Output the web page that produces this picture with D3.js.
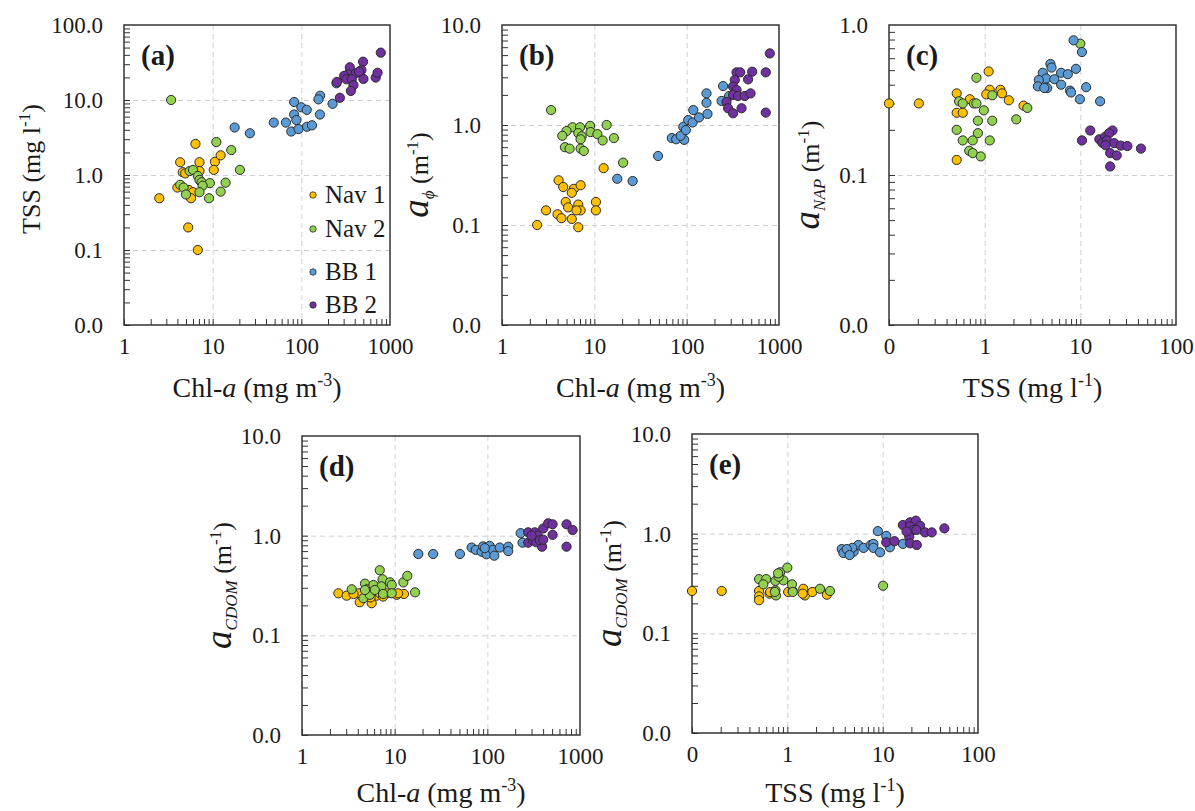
<!DOCTYPE html>
<html>
<head>
<meta charset="utf-8">
<script src="https://cdn.jsdelivr.net/npm/d3@7"></script>
<style>
  body { margin: 0; background: #fff; }
  text { font-family: "Liberation Serif", "Times New Roman", serif; fill: #1a1a1a; }
</style>
</head>
<body>
<svg id="chart" width="1195" height="811"></svg>
<script>
// groups
const groups = ["Nav 1", "Nav 2", "BB 1", "BB 2"];

// (a) Chl-a vs TSS
const aNav1 = [[6.4,2.6],[4.3,1.48],[7.1,1.48],[10.6,1.5],[12.3,1.83],[10.3,1.17],[4.6,1.09],[4.9,1.05],[7.1,1.13],[4.0,0.68],[5.4,0.63],[6.0,0.59],[5.7,0.49],[2.5,0.49],[5.3,0.2],[6.8,0.1]];
const aNav2 = [[3.4,10],[11,2.75],[16.2,2.15],[20.3,1.17],[5.5,1.13],[6.0,1.17],[6.8,0.97],[7.1,0.86],[7.5,0.8],[9.3,0.78],[14,0.79],[4.3,0.74],[4.7,0.68],[7.7,0.72],[5.0,0.55],[7.1,0.59],[9.1,0.49],[12.3,0.6]];
const aBB1 = [[17.7,4.3],[26.3,3.6],[48.9,5.0],[67,5.0],[77,3.8],[93,4.1],[83,6.4],[88,5.4],[83,9.4],[100,8.0],[115,7.4],[116,4.4],[132,4.6],[162,6.4],[163,11.4],[156,10.2],[225,8.9],[249,16.7]];
const aBB2 = [[272,10.7],[252,17.4],[352,27.3],[337,22],[304,21],[411,22.7],[497,32.4],[476,25.1],[322,18.9],[370,18.9],[387,15.8],[362,13.2],[502,19.1],[690,19.9],[724,23.1],[787,42.8],[448,23.8]];

// (b) Chl-a vs a_phi
const bNav1 = [[12.6,0.37],[4.1,0.28],[4.6,0.24],[6.0,0.23],[7.1,0.25],[5.7,0.21],[4.9,0.17],[5.2,0.15],[6.7,0.16],[7.1,0.14],[6.4,0.14],[10.4,0.17],[10.4,0.14],[3.0,0.14],[4.0,0.128],[4.4,0.117],[5.7,0.115],[2.4,0.1],[6.7,0.095]];
const bNav2 = [[3.4,1.41],[5.8,0.95],[7.0,0.95],[9.0,0.98],[13.6,1.0],[5.0,0.87],[4.5,0.78],[6.7,0.83],[7.3,0.77],[7.1,0.72],[9.1,0.85],[10.8,0.81],[12.3,0.7],[16.3,0.74],[4.8,0.6],[5.4,0.58],[7.1,0.58],[7.7,0.55],[20.5,0.42]];
const bBB1 = [[17.7,0.29],[26,0.275],[49,0.49],[69,0.74],[77,0.72],[94,0.71],[86,0.78],[92,0.96],[98,0.89],[104,1.12],[116,1.06],[118,1.41],[136,1.19],[168,1.29],[164,1.67],[164,2.07],[239,1.74],[248,2.45],[288,1.95]];
const bBB2 = [[795,5.2],[347,3.36],[380,3.36],[512,3.41],[719,3.36],[463,2.86],[332,2.82],[318,2.42],[347,2.24],[318,2.0],[360,1.95],[426,1.95],[492,2.07],[270,1.7],[281,1.47],[318,1.31],[393,1.47],[719,1.33]];

// (c) TSS vs a_NAP
const cNav1 = [[0.1,0.30],[0.205,0.30],[0.51,0.35],[0.51,0.26],[0.59,0.26],[0.51,0.126],[0.70,0.32],[1.1,0.49],[1.13,0.37],[1.04,0.345],[1.46,0.37],[1.52,0.35],[1.79,0.315],[2.55,0.29]];
const cNav2 = [[0.82,0.445],[0.54,0.31],[0.59,0.30],[0.77,0.30],[0.82,0.30],[1.2,0.34],[0.98,0.27],[2.79,0.28],[2.14,0.235],[0.85,0.23],[1.2,0.23],[0.51,0.20],[0.85,0.19],[0.59,0.17],[0.75,0.17],[1.13,0.17],[0.69,0.145],[0.75,0.14],[0.91,0.133],[10,0.75]];
const cBB1 = [[8.5,0.79],[10.4,0.66],[4.87,0.55],[5.0,0.52],[4.05,0.48],[6.3,0.48],[7.4,0.47],[9.0,0.51],[4.4,0.44],[3.68,0.43],[5.35,0.435],[6.3,0.40],[3.6,0.39],[4.5,0.38],[4.2,0.38],[7.8,0.365],[8.0,0.355],[11.5,0.385],[9.9,0.32],[16.1,0.31]];
const cBB2 = [[10.4,0.17],[12.7,0.198],[15.8,0.173],[18.2,0.18],[21.7,0.198],[20,0.19],[17,0.164],[19,0.17],[22.6,0.163],[26.5,0.157],[31,0.156],[43,0.15],[18.3,0.158],[20.5,0.14],[24,0.135],[20.5,0.114]];

// (d) Chl-a vs a_CDOM
const dNav1 = [[2.47,0.264],[3.03,0.25],[4.12,0.264],[4.2,0.215],[5.65,0.21],[6.4,0.25],[6.9,0.264],[8.2,0.264],[10.5,0.255],[12.6,0.26],[5.0,0.255],[10.9,0.264],[3.6,0.26],[5.5,0.24],[7.5,0.245]];
const dNav2 = [[3.44,0.29],[4.78,0.33],[5.05,0.29],[5.9,0.32],[6.9,0.45],[7.4,0.365],[7.2,0.31],[8.9,0.34],[9.3,0.32],[12.4,0.34],[13.7,0.395],[16.6,0.27],[4.6,0.236],[5.4,0.255],[7.5,0.26],[9.3,0.264],[4.78,0.285],[6.1,0.285]];
const dBB1 = [[18,0.655],[26,0.655],[50.6,0.655],[67.7,0.76],[75,0.72],[86.9,0.69],[90,0.78],[98,0.65],[106,0.79],[115,0.72],[119,0.63],[136,0.76],[168,0.775],[168,0.70],[229,1.06],[240,0.85],[94,0.75]];
const dBB2 = [[276,1.08],[325,1.08],[401,1.18],[454,1.33],[506,1.3],[506,1.02],[716,1.3],[832,1.14],[716,0.775],[276,0.85],[310,0.9],[337,0.86],[390,0.775],[350,1.0],[368,0.9],[300,1.0],[401,0.91]];

// (e) TSS vs a_CDOM
const eNav1 = [[0.1,0.266],[0.205,0.266],[0.505,0.266],[0.505,0.235],[0.505,0.215],[0.65,0.25],[1.02,0.26],[1.14,0.267],[1.47,0.28],[1.53,0.24],[1.83,0.26],[2.6,0.244],[0.66,0.26],[1.45,0.25]];
const eNav2 = [[0.505,0.35],[0.6,0.35],[0.84,0.41],[1.0,0.456],[0.75,0.336],[0.91,0.34],[0.81,0.37],[0.56,0.31],[0.75,0.27],[0.76,0.24],[1.12,0.31],[1.14,0.26],[2.2,0.28],[2.8,0.266],[10.1,0.30],[0.8,0.4],[0.74,0.26]];
const eBB1 = [[3.72,0.70],[3.87,0.64],[4.5,0.64],[4.96,0.66],[5.56,0.77],[4.8,0.72],[4.2,0.70],[4.5,0.61],[6.3,0.72],[7.5,0.77],[8.0,0.79],[8.0,0.72],[9.4,0.65],[8.9,1.06],[10.9,0.95],[11.9,0.73],[16.3,0.79]];
const eBB2 = [[10.9,0.82],[13.3,0.84],[16.3,1.22],[19.4,1.3],[22.3,1.35],[19.4,1.18],[21,1.09],[24.7,1.2],[27.8,1.03],[32.7,1.03],[44.4,1.13],[19,0.93],[19.4,0.8],[22.8,0.77],[17.8,1.05],[22.6,1.09]];

const colors = ["#FFC000", "#92D050", "#5B9BD5", "#7030A0"];

const panels = [
  { id: "(a)", left: 124, top: 25, width: 266, height: 300, xDomain: [1, 1000], yDomain: [0.01, 100],
    series: [aNav1, aNav2, aBB1, aBB2], xTitle: "chl", xTitleY: 397, yTitle: ["TSS (mg l", "-1", ")"], yTitleX: -84, legend: true },
  { id: "(b)", left: 502, top: 25, width: 277, height: 300, xDomain: [1, 1000], yDomain: [0.01, 10],
    series: [bNav1, bNav2, bBB1, bBB2], xTitle: "chl", xTitleY: 397, ySub: "\u03d5", yTitleX: -74 },
  { id: "(c)", left: 889, top: 25, width: 287, height: 300, xDomain: [0.1, 100], yDomain: [0.01, 1],
    series: [cNav1, cNav2, cBB1, cBB2], xTitle: "tss", xTitleY: 397, ySub: "NAP", yTitleX: -70 },
  { id: "(d)", left: 302, top: 436, width: 278, height: 299, xDomain: [1, 1000], yDomain: [0.01, 10],
    series: [dNav1, dNav2, dBB1, dBB2], xTitle: "chl", xTitleY: 802, ySub: "CDOM", yTitleX: -71 },
  { id: "(e)", left: 692, top: 434, width: 286, height: 299, xDomain: [0.1, 100], yDomain: [0.01, 10],
    series: [eNav1, eNav2, eBB1, eBB2], xTitle: "tss", xTitleY: 802, ySub: "CDOM", yTitleX: -71 }
];

const svg = d3.select("#chart");

const decades = ([lo, hi]) => d3.range(Math.round(Math.log10(lo)), Math.round(Math.log10(hi)) + 1).map(e => Math.pow(10, e));
const minors = dom => decades(dom).slice(0, -1).flatMap(d => d3.range(1, 10).map(k => +(k * d).toPrecision(3)));
const fmtY = v => v < 0.05 ? "0.0" : v.toFixed(1);
const fmtX = v => v < 1 ? "0" : String(v);

function styleAxis(sel) {
  sel.select(".domain").remove();
  sel.attr("font-family", null).attr("font-size", null);
}

function drawPanel(p) {
  const g = svg.append("g").attr("transform", `translate(${p.left},${p.top})`);
  const x = d3.scaleLog().domain(p.xDomain).range([0, p.width]);
  const y = d3.scaleLog().domain(p.yDomain).range([p.height, 0]);
  const xMaj = decades(p.xDomain), yMaj = decades(p.yDomain);

  // dashed grid at inner decades
  g.append("g")
    .call(d3.axisBottom(x).tickValues(xMaj.slice(1, -1)).tickSize(p.height).tickFormat(""))
    .call(styleAxis)
    .selectAll("line").attr("stroke", "#cfcfcf").attr("stroke-dasharray", "5,4");
  g.append("g")
    .call(d3.axisLeft(y).tickValues(yMaj.slice(1, -1)).tickSize(-p.width).tickFormat(""))
    .call(styleAxis)
    .selectAll("line").attr("stroke", "#cfcfcf").attr("stroke-dasharray", "5,4");

  // inward log ticks
  g.append("g").attr("transform", `translate(0,${p.height})`)
    .call(d3.axisBottom(x).tickValues(minors(p.xDomain)).tickSize(-6).tickFormat(""))
    .call(styleAxis)
    .selectAll("line").attr("stroke", "#333");
  g.append("g")
    .call(d3.axisLeft(y).tickValues(minors(p.yDomain)).tickSize(-6).tickFormat(""))
    .call(styleAxis)
    .selectAll("line").attr("stroke", "#333");

  // tick labels
  g.append("g").attr("transform", `translate(0,${p.height})`)
    .call(d3.axisBottom(x).tickValues(xMaj).tickSize(0).tickPadding(13).tickFormat(fmtX))
    .call(styleAxis)
    .selectAll("text").attr("font-size", 23);
  g.append("g")
    .call(d3.axisLeft(y).tickValues(yMaj).tickSize(0).tickPadding(21).tickFormat(fmtY))
    .call(styleAxis)
    .selectAll("text").attr("font-size", 23);

  // frame
  g.append("rect").attr("width", p.width).attr("height", p.height)
    .attr("fill", "none").attr("stroke", "#333").attr("stroke-width", 1.5);

  // points
  p.series.forEach((pts, i) => {
    g.append("g").selectAll("circle").data(pts).join("circle")
      .attr("cx", d => x(d[0])).attr("cy", d => y(d[1])).attr("r", 4.6)
      .attr("fill", colors[i]).attr("stroke", "#2b2b2b").attr("stroke-width", 1);
  });

  // panel letter
  g.append("text").attr("x", 17).attr("y", 40).attr("font-size", 29).attr("font-weight", "bold").text(p.id);

  // x title (absolute baseline)
  const xt = g.append("text").attr("x", p.width / 2).attr("y", p.xTitleY - p.top)
    .attr("text-anchor", "middle").attr("font-size", 28);
  if (p.xTitle === "chl") {
    xt.append("tspan").text("Chl-");
    xt.append("tspan").attr("font-style", "italic").text("a");
    xt.append("tspan").text(" (mg m");
    xt.append("tspan").attr("font-size", 18).attr("dy", -11).text("-3");
    xt.append("tspan").attr("dy", 11).text(")");
  } else {
    xt.append("tspan").text("TSS  (mg l");
    xt.append("tspan").attr("font-size", 18).attr("dy", -11).text("-1");
    xt.append("tspan").attr("dy", 11).text(")");
  }

  // y title
  const yt = g.append("text")
    .attr("transform", `translate(${p.yTitleX},${p.height / 2}) rotate(-90)`)
    .attr("text-anchor", "middle").attr("font-size", 26);
  if (p.yTitle) {
    yt.attr("transform", `translate(${p.yTitleX},${p.height / 2 - 6}) rotate(-90)`);
    yt.append("tspan").text(p.yTitle[0]);
    yt.append("tspan").attr("font-size", 17).attr("dy", -10).text(p.yTitle[1]);
    yt.append("tspan").attr("dy", 10).text(p.yTitle[2]);
  } else {
    yt.append("tspan").attr("font-style", "italic").attr("font-size", 37).text("a");
    yt.append("tspan").attr("font-style", "italic").attr("font-size", 17).attr("dy", 6).text(p.ySub);
    yt.append("tspan").attr("dy", -6).text(" (m");
    yt.append("tspan").attr("font-size", 17).attr("dy", -10).text("-1");
    yt.append("tspan").attr("dy", 10).text(")");
  }

  // legend
  if (p.legend) {
    const legendY = [170, 204, 247, 280];
    const lg = g.append("g").attr("transform", "translate(189,0)");
    groups.forEach((name, i) => {
      lg.append("circle").attr("cx", 0).attr("cy", legendY[i]).attr("r", 3.2)
        .attr("fill", colors[i]).attr("stroke", "#2b2b2b").attr("stroke-width", 0.8);
      lg.append("text").attr("x", 12).attr("y", legendY[i] + 8).attr("font-size", 25).text(name);
    });
  }
}

panels.forEach(drawPanel);
</script>
</body>
</html>
